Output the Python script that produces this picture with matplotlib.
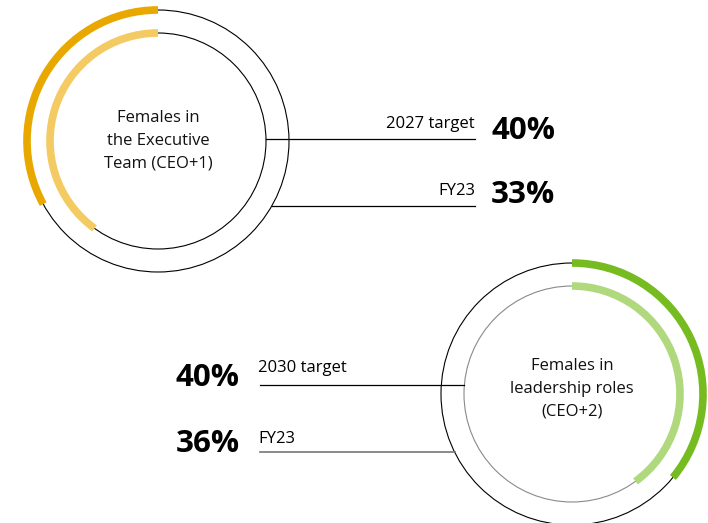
import matplotlib.pyplot as plt
from matplotlib.patches import Circle, Arc
import numpy as np

plt.rcParams['font.family'] = ['Open Sans', 'DejaVu Sans']

# data
titles = ["Females in\nthe Executive\nTeam (CEO+1)", "Females in\nleadership roles\n(CEO+2)"]
target_labels = ["2027 target", "2030 target"]
actual_labels = ["FY23", "FY23"]
target_vals = [40, 40]
actual_vals = [33, 36]
dark_cols = ["#E9A800", "#76BC21"]
light_cols = ["#F4CB62", "#B0D97E"]

W, H = 708, 523
fig = plt.figure(figsize=(W / 100, H / 100), dpi=100)
ax = fig.add_axes([0, 0, 1, 1])
ax.set_xlim(0, W)
ax.set_ylim(0, H)
ax.set_aspect('equal')
ax.axis('off')

R_out, R_in = 131, 108
centers = [(158, H - 141), (572, H - 394)]
inner_edge = ["black", "#8a8a8a"]
line_y = [(H - 139, H - 206), (H - 385, H - 452)]
title_dy = [0, 5]

for i in range(2):
    cx, cy = centers[i]
    ax.add_patch(Circle((cx, cy), R_out, fill=False, ec="black", lw=0.8))
    ax.add_patch(Circle((cx, cy), R_in, fill=False, ec=inner_edge[i], lw=0.8))
    a_t = target_vals[i] / 100 * 360
    a_a = actual_vals[i] / 100 * 360
    if i == 0:
        # counter-clockwise from 12 o'clock
        ax.add_patch(Arc((cx, cy), 2 * R_in, 2 * R_in, theta1=90, theta2=90 + a_t,
                         color=light_cols[i], lw=5.5))
        ax.add_patch(Arc((cx, cy), 2 * R_out, 2 * R_out, theta1=90, theta2=90 + a_a,
                         color=dark_cols[i], lw=5.5))
    else:
        ax.add_patch(Arc((cx, cy), 2 * R_in, 2 * R_in, theta1=90 - a_t, theta2=90,
                         color=light_cols[i], lw=5.5))
        ax.add_patch(Arc((cx, cy), 2 * R_out, 2 * R_out, theta1=90 - a_a, theta2=90,
                         color=dark_cols[i], lw=5.5))
    ax.text(cx, cy + title_dy[i], titles[i], ha="center", va="center", fontsize=12,
            linespacing=1.55, color="#111111")

    yt, ya = line_y[i]
    xt = np.sqrt(R_in**2 - (yt - cy)**2)
    xa = np.sqrt(R_out**2 - (ya - cy)**2)
    if i == 0:
        ax.plot([cx + xt, 475], [yt, yt], color="black", lw=0.9)
        ax.plot([cx + xa, 475], [ya, ya], color="black", lw=0.9)
        ax.text(475, yt + 11, target_labels[i], ha="right", va="baseline", fontsize=12)
        ax.text(475, ya + 11, actual_labels[i], ha="right", va="baseline", fontsize=12)
        ax.text(491, yt + 0, "%d%%" % target_vals[i], ha="left", va="baseline",
                fontsize=22.5, fontweight="bold")
        ax.text(491, ya + 3, "%d%%" % actual_vals[i], ha="left", va="baseline",
                fontsize=22.5, fontweight="bold")
    else:
        ax.plot([260, cx - xt], [yt, yt], color="black", lw=0.9)
        ax.plot([260, cx - xa], [ya, ya], color="#777777", lw=1.2)
        ax.text(258, yt + 13, target_labels[i], ha="left", va="baseline", fontsize=12)
        ax.text(258, ya + 9, actual_labels[i], ha="left", va="baseline", fontsize=12)
        ax.text(240, yt - 1, "%d%%" % target_vals[i], ha="right", va="baseline",
                fontsize=22.5, fontweight="bold")
        ax.text(240, ya + 0, "%d%%" % actual_vals[i], ha="right", va="baseline",
                fontsize=22.5, fontweight="bold")

fig.savefig("out.png", dpi=100)
